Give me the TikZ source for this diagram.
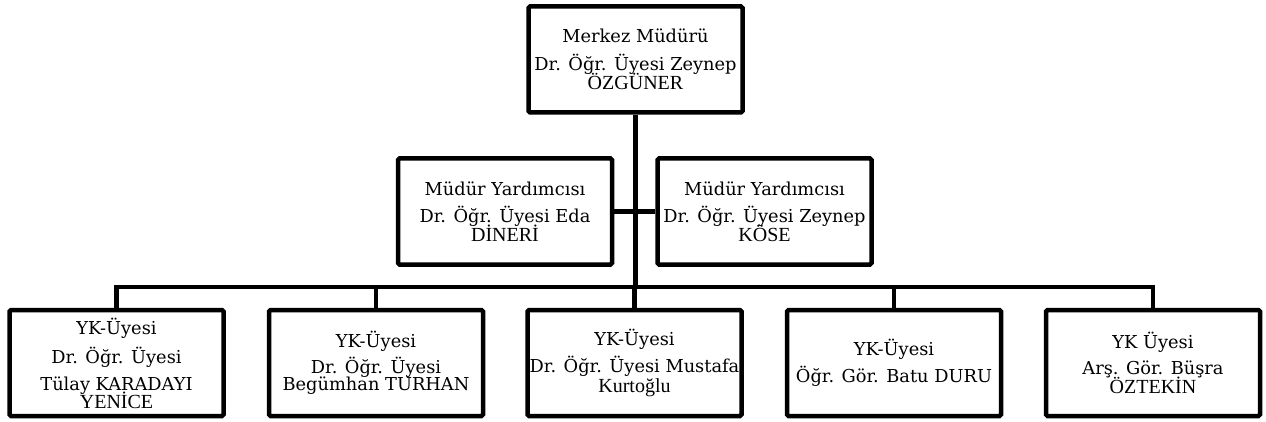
\documentclass[tikz,border=0pt]{standalone}
\usepackage{fontspec}
\setmainfont{DejaVu Serif}
\newfontfamily\timesf{Liberation Serif}
\newcommand{\wrapline}[1]{{\timesf\fontsize{20}{27}\selectfont #1}}
\begin{document}
\begin{tikzpicture}[x=1pt,y=-1pt,
  orgbox/.style={draw=black,line width=4.5pt,rounded corners=1.5pt,fill=white,
    minimum width=214pt,minimum height=106pt,inner sep=0pt,align=center,
    font=\fontsize{17.8}{27}\selectfont},
  conn/.style={draw=black,line width=4.5pt}]
\useasboundingbox (0,0) rectangle (1266,422);
\node[orgbox] (top) at (635.5,59.5) {Merkez Müdürü\\[1pt]Dr. Öğr. Üyesi Zeynep\\[-8pt]\wrapline{ÖZGÜNER}};
\node[orgbox] (ml) at (505,211.5) {Müdür Yardımcısı\\[0pt]Dr. Öğr. Üyesi Eda\\[-8pt]\wrapline{DİNERİ}};
\node[orgbox] (mr) at (764.5,211.5) {Müdür Yardımcısı\\[0pt]Dr. Öğr. Üyesi Zeynep\\[-8pt]\wrapline{KÖSE}};
\node[orgbox] (b1) at (116.5,363) {YK-Üyesi\\[2pt]Dr. Öğr. Üyesi\\Tülay KARADAYI\\[-9pt]\wrapline{YENİCE}};
\node[orgbox] (b2) at (376,363) {YK-Üyesi\\[-1pt]Dr. Öğr. Üyesi\\[-10pt]Begümhan TURHAN};
\node[orgbox] (b3) at (634.5,363) {YK-Üyesi\\Dr. Öğr. Üyesi Mustafa\\[-7pt]\wrapline{Kurtoğlu}};
\node[orgbox] (b4) at (894,363) {YK-Üyesi\\Öğr. Gör. Batu DURU};
\node[orgbox] (b5) at (1153,363) {YK Üyesi\\[-1pt]Arş. Gör. Büşra\\[-8pt]\wrapline{ÖZTEKİN}};
\coordinate (bus) at (635.5,287);
\draw[conn] (b1.north) |- (bus) -| (b5.north);
\draw[conn] (top.south) -- (bus);
\draw[conn] (ml.east) -- (mr.west);
\draw[conn] (b2.north) -- (b2.north |- bus);
\draw[conn] (b3.north) -- (b3.north |- bus);
\draw[conn] (b4.north) -- (b4.north |- bus);
\end{tikzpicture}
\end{document}
